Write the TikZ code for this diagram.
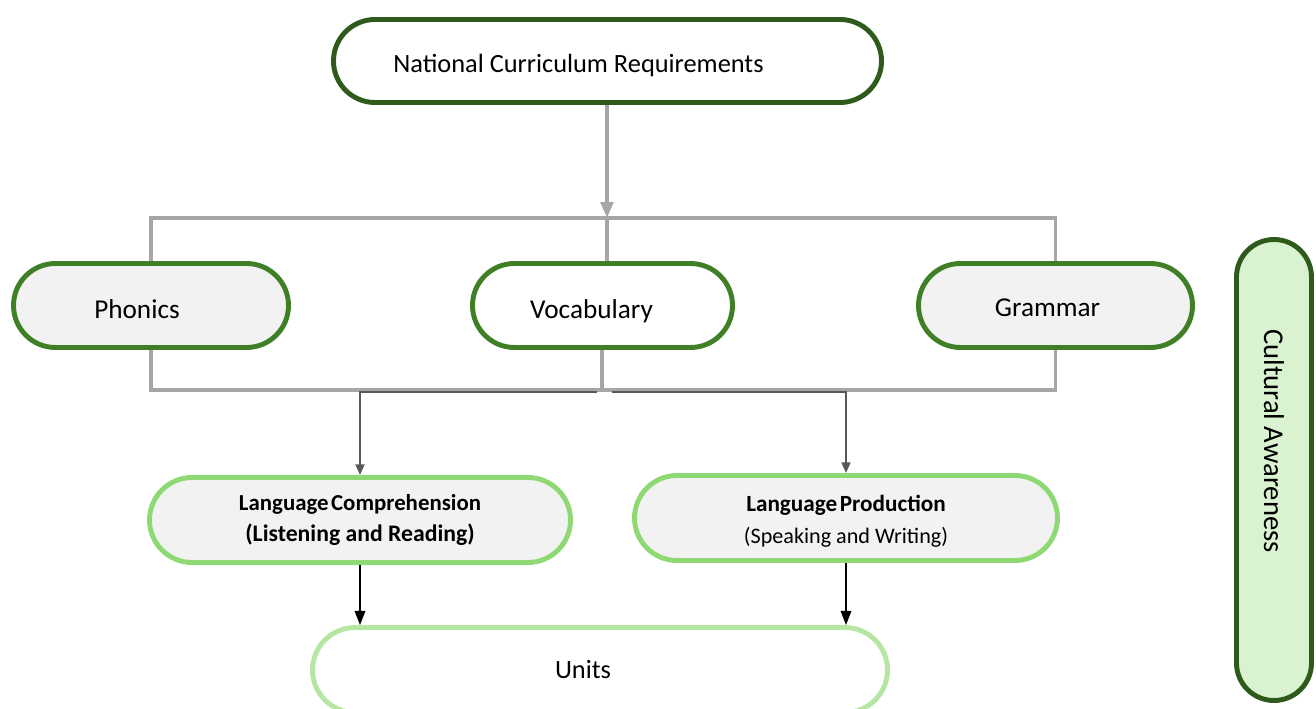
\documentclass[tikz,border=0pt]{standalone}
\usepackage{fontspec}
\setmainfont{Carlito}
\usetikzlibrary{shapes.misc, arrows.meta}

\definecolor{darkgreen}{HTML}{2E5A1C}
\definecolor{midgreen}{HTML}{3F7F26}
\definecolor{lightgreen}{HTML}{8ED973}
\definecolor{palegreen}{HTML}{B5E6A2}
\definecolor{mintfill}{HTML}{D9F2D0}
\definecolor{boxgray}{HTML}{F2F2F2}
\definecolor{linegray}{HTML}{A6A6A6}
\definecolor{darkline}{HTML}{595959}

\begin{document}
\begin{tikzpicture}[
    pill/.style={rounded rectangle, line width=2.8pt, minimum height=1.66cm, inner sep=0pt, font=\fontsize{15}{17}\selectfont},
    topbox/.style={pill, draw=darkgreen, fill=white, minimum width=10.96cm, text height=0.52cm, text depth=0.05cm},
    skillbox/.style={pill, draw=midgreen, minimum height=1.68cm, font=\fontsize{15.5}{17}\selectfont, text height=0.55cm, text depth=0.05cm},
    langbox/.style={pill, draw=lightgreen, fill=boxgray, minimum height=1.7cm, align=center},
    bracket/.style={draw=linegray, line width=2.2pt},
    feed/.style={draw=darkline, line width=1.1pt, -{Triangle[length=6pt, width=5pt]}},
    down/.style={draw=black, line width=0.9pt, -{Triangle[length=8pt, width=6pt]}}]
    \useasboundingbox (0,0) rectangle (26.32,-14.18);

    % boxes
    \node[topbox] (ncr) at (12.15,-1.22) {National Curriculum Requirements\hspace*{1.16cm}};
    \node[skillbox, fill=boxgray, minimum width=5.5cm] (phon) at (3.02,-6.11) {Phonics\hspace*{0.56cm}};
    \node[skillbox, fill=white, minimum width=5.2cm] (voc) at (12.05,-6.11) {Vocabulary\hspace*{0.44cm}};
    \node[skillbox, fill=boxgray, minimum width=5.48cm, text height=0.48cm] (gram) at (21.11,-6.11) {Grammar\hspace*{0.32cm}};
    \node[langbox, minimum width=8.42cm] (comp) at (7.2,-10.4)
        {\fontsize{13}{18.5}\selectfont\bfseries Language\hspace{-1.5pt} Comprehension\\[0.7pt]
         \fontsize{13.5}{18.5}\selectfont\bfseries (Listening and Reading)};
    \node[langbox, minimum width=8.46cm] (prod) at (16.92,-10.36)
        {\fontsize{13.2}{18.5}\selectfont\bfseries\rule{0pt}{13pt}Language\hspace{-1.5pt} Production\\[0.7pt]
         \fontsize{12.6}{18.5}\selectfont (Speaking and Writing)};
    \node[pill, draw=palegreen, fill=white, minimum width=11.5cm, minimum height=1.7cm] (units) at (12.0,-13.4) {Units\hspace*{0.68cm}};
    \node[pill, draw=darkgreen, fill=mintfill, rotate=-90, minimum width=9.22cm, minimum height=1.5cm] (cult) at (25.48,-9.4)
        {\fontsize{16.3}{18}\selectfont Cultural Awareness\hspace*{1.16cm}};

    % connectors
    \coordinate (topbar) at (12.14,-4.36);
    \coordinate (botbar) at (12.04,-7.8);
    \coordinate (splitL) at (11.94,-7.84);
    \coordinate (splitR) at (12.24,-7.84);
    \draw[bracket, -{Triangle[length=9pt, width=7pt]}] (ncr.south -| topbar) -- (topbar);
    \draw[bracket] (phon.north) |- (topbar) -| (gram.north);
    \draw[bracket] (topbar) -- (topbar |- voc.north);
    \draw[bracket] (phon.south) |- (botbar) -| (gram.south);
    \draw[bracket] (botbar) -- (botbar |- voc.south);
    \draw[feed] (splitL) -| (comp.north);
    \draw[feed] (splitR) -| (prod.north);
    \draw[down] (comp.south) -- (comp.south |- units.north);
    \draw[down] (prod.south) -- (prod.south |- units.north);
\end{tikzpicture}
\end{document}
